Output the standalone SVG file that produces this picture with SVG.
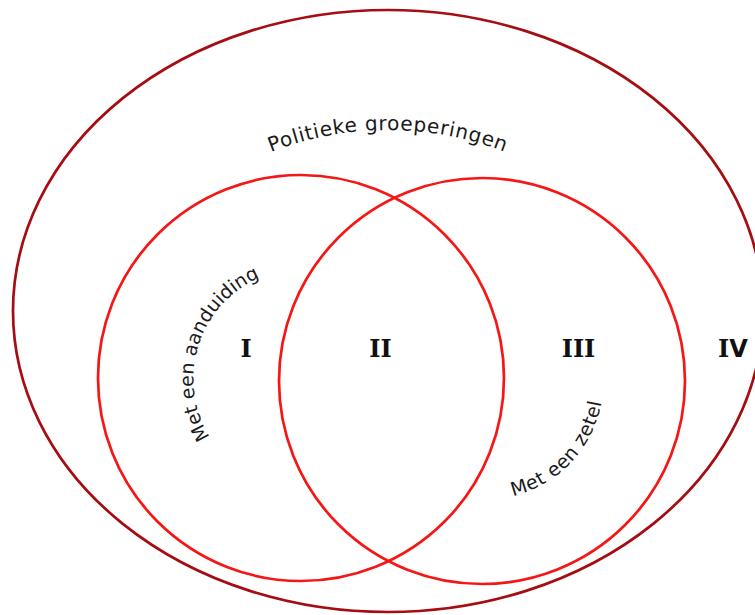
<svg xmlns="http://www.w3.org/2000/svg" width="755" height="615" viewBox="0 0 755 615">
  <style>
    .outer { fill: none; stroke: #a50d12; stroke-width: 2.7; }
    .set { fill: none; stroke: #f51616; stroke-width: 2.7; }
    .lbl { font-family: "DejaVu Sans", Verdana, sans-serif; font-size: 19px; fill: #1a1a1a; }
    .lbl-top { font-size: 20px; letter-spacing: 0.7px; }
    .num { font-family: "DejaVu Serif", "Liberation Serif", serif; font-weight: bold; font-size: 24px; fill: #111; text-anchor: middle; }
    .v { font-family: "DejaVu Sans", sans-serif; }
  </style>
  <defs>
    <path id="pPol" d="M188,199.4 A323,323 0 0 1 588,199.4"/>
    <path id="pAan" d="M264.1,481.4 A110,110 0 0 1 329.5,271.8"/>
    <path id="pZet" d="M454,495 A118,118 0 0 0 597,343"/>
  </defs>
  <rect width="755" height="615" fill="#fff"/>
  <g id="politieke-groeperingen">
    <ellipse class="outer" cx="388" cy="311" rx="375" ry="301"/>
    <text class="lbl lbl-top"><textPath href="#pPol" startOffset="50%" text-anchor="middle">Politieke groeperingen</textPath></text>
  </g>
  <g id="met-een-aanduiding">
    <circle class="set" cx="301" cy="378" r="203"/>
    <text class="lbl"><textPath href="#pAan" startOffset="50%" text-anchor="middle">Met een aanduiding</textPath></text>
  </g>
  <g id="met-een-zetel">
    <circle class="set" cx="482" cy="381" r="203"/>
    <text class="lbl" letter-spacing="0.6"><textPath href="#pZet" startOffset="50%" text-anchor="middle">Met een zetel</textPath></text>
  </g>
  <g id="regions">
    <text class="num" x="246" y="357">I</text>
    <text class="num" x="380.5" y="357">II</text>
    <text class="num" x="578.5" y="357">III</text>
    <text class="num" x="733" y="357">I<tspan class="v">V</tspan></text>
  </g>
</svg>
